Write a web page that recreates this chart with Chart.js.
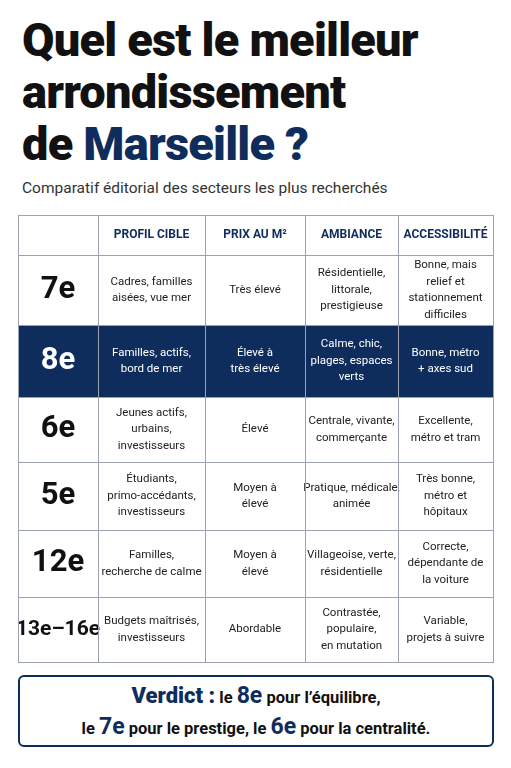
<!DOCTYPE html>
<html lang="fr">
<head>
  <meta charset="UTF-8">
  <title>Arrondissements de Marseille</title>
  <script src="https://cdn.jsdelivr.net/npm/chart.js"></script>
  <style>
    body { margin: 0; width: 511px; height: 768px; background: #fff; font-family: Roboto, 'Liberation Sans', sans-serif; position: relative; overflow: hidden; }
    h1 { position: absolute; left: 22px; top: 14px; margin: 0; font-size: 47px; line-height: 52px; font-weight: 900; color: #111; letter-spacing: -0.8px; }
    h1 span { color: #0f2d5c; }
    .sub { position: absolute; left: 22px; top: 179px; font-size: 15.5px; color: #333; }
    #wrap { position: absolute; left: 18px; top: 215px; width: 477px; height: 449px; }
    .verdict { position: absolute; left: 18px; top: 675px; width: 476px; height: 72px; border: 2px solid #0f2d5c; border-radius: 6px; text-align: center; font-weight: 700; color: #111; font-size: 16.5px; line-height: 29px; padding-top: 4px; box-sizing: border-box; }
    .verdict b { color: #0f2d5c; font-size: 22px; }
    .verdict .big { font-size: 23px; color: #0f2d5c; }
  </style>
</head>
<body>
  <h1>Quel est le meilleur<br>arrondissement<br>de <span>Marseille ?</span></h1>
  <div class="sub">Comparatif éditorial des secteurs les plus recherchés</div>
  <div id="wrap"><canvas id="table"></canvas></div>
  <div class="verdict"><b>Verdict :</b> le <span class="big">8e</span> pour l’équilibre,<br>le <span class="big">7e</span> pour le prestige, le <span class="big">6e</span> pour la centralité.</div>

  <script>
    const headers = ["", "PROFIL CIBLE", "PRIX AU M²", "AMBIANCE", "ACCESSIBILITÉ"];
    const sectors = ["7e", "8e", "6e", "5e", "12e", "13e–16e"];
    const profils = ["Cadres, familles\naisées, vue mer", "Familles, actifs,\nbord de mer", "Jeunes actifs,\nurbains,\ninvestisseurs", "Étudiants,\nprimo-accédants,\ninvestisseurs", "Familles,\nrecherche de calme", "Budgets maîtrisés,\ninvestisseurs"];
    const prix = ["Très élevé", "Élevé à\ntrès élevé", "Élevé", "Moyen à\nélevé", "Moyen à\nélevé", "Abordable"];
    const ambiances = ["Résidentielle,\nlittorale,\nprestigieuse", "Calme, chic,\nplages, espaces\nverts", "Centrale, vivante,\ncommerçante", "Pratique, médicale,\nanimée", "Villageoise, verte,\nrésidentielle", "Contrastée,\npopulaire,\nen mutation"];
    const acces = ["Bonne, mais\nrelief et\nstationnement\ndifficiles", "Bonne, métro\n+ axes sud", "Excellente,\nmétro et tram", "Très bonne,\nmétro et\nhôpitaux", "Correcte,\ndépendante de\nla voiture", "Variable,\nprojets à suivre"];
    const highlight = "8e";

    // layout (pixels in table space)
    const colEdges = [0, 80, 187, 287, 380, 475];
    const rowEdges = [0, 40, 110, 182, 247, 315, 382, 447];
    const navy = "#0f2d5c";

    const rows = sectors.map((s, i) => [s, profils[i], prix[i], ambiances[i], acces[i]]);

    const tablePlugin = {
      id: "tableCells",
      afterDraw(chart) {
        const ctx = chart.ctx, xs = chart.scales.x, ys = chart.scales.y;
        const X = v => xs.getPixelForValue(v), Y = v => ys.getPixelForValue(v);
        const W = colEdges[colEdges.length - 1], H = rowEdges[rowEdges.length - 1];
        ctx.save();
        ctx.textAlign = "center"; ctx.textBaseline = "middle";
        const all = [headers].concat(rows);
        all.forEach((row, r) => {
          const y0 = Y(rowEdges[r]), y1 = Y(rowEdges[r + 1]);
          const hl = r > 0 && row[0] === highlight;
          if (hl) { ctx.fillStyle = navy; ctx.fillRect(X(0), y0, X(W) - X(0), y1 - y0); }
          row.forEach((txt, c) => {
            const x0 = X(colEdges[c]), x1 = X(colEdges[c + 1]);
            const cx = (x0 + x1) / 2, cy = (y0 + y1) / 2;
            if (r === 0) { ctx.font = "700 12px Roboto, sans-serif"; ctx.fillStyle = navy; }
            else if (c === 0) { ctx.font = (txt.length > 4 ? "700 21px" : "700 31px") + " Roboto, sans-serif"; ctx.fillStyle = hl ? "#fff" : "#111"; }
            else { ctx.font = "11.5px Roboto, sans-serif"; ctx.fillStyle = hl ? "#fff" : "#222"; }
            const lines = txt.split("\n"), lh = 16.5;
            lines.forEach((l, k) => ctx.fillText(l, cx, cy + (k - (lines.length - 1) / 2) * lh));
          });
        });
        ctx.strokeStyle = "#9aa3ad"; ctx.lineWidth = 1;
        colEdges.forEach(v => { ctx.beginPath(); ctx.moveTo(Math.round(X(v)) + 0.5, Y(0)); ctx.lineTo(Math.round(X(v)) + 0.5, Y(H)); ctx.stroke(); });
        rowEdges.forEach(v => { ctx.beginPath(); ctx.moveTo(X(0), Math.round(Y(v)) + 0.5); ctx.lineTo(X(W) + 1, Math.round(Y(v)) + 0.5); ctx.stroke(); });
        ctx.restore();
      }
    };

    new Chart(document.getElementById("table"), {
      type: "scatter",
      data: { datasets: [{ data: [] }] },
      options: {
        responsive: true, maintainAspectRatio: false, animation: false,
        layout: { padding: 0 },
        plugins: { legend: { display: false }, tooltip: { enabled: false } },
        scales: {
          x: { type: "linear", min: 0, max: 477, display: false },
          y: { type: "linear", min: 0, max: 449, reverse: true, display: false }
        }
      },
      plugins: [tablePlugin]
    });
  </script>
</body>
</html>
